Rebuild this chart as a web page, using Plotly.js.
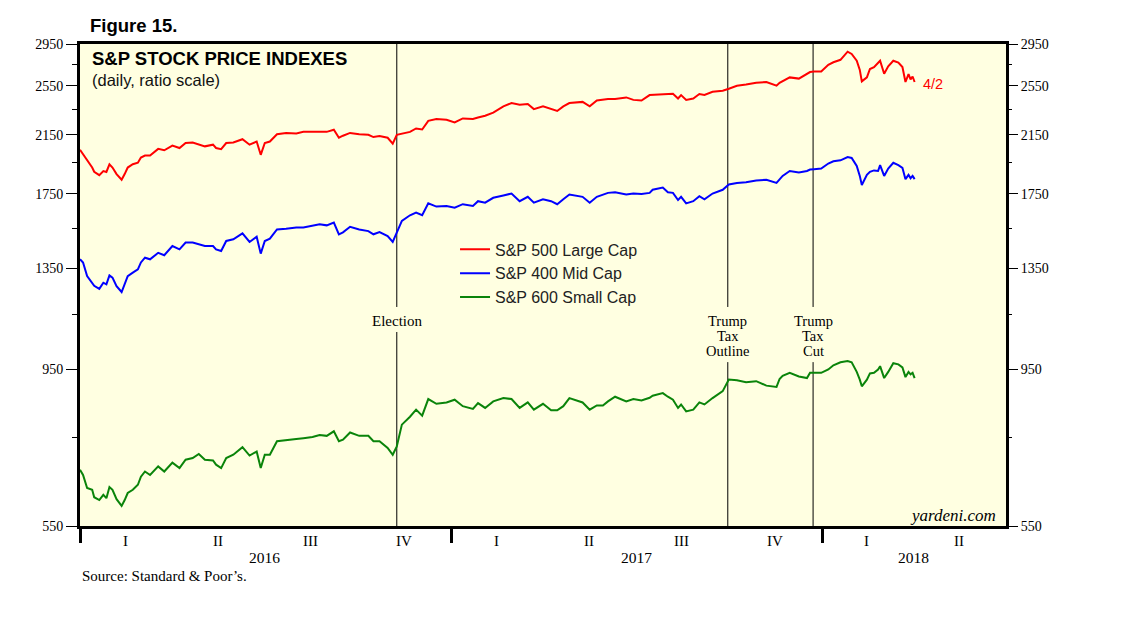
<!DOCTYPE html>
<html><head><meta charset="utf-8">
<script src="https://cdn.plot.ly/plotly-3.0.1.min.js"></script>
<style>html,body{margin:0;padding:0;background:#fff;} #chart{width:1138px;height:621px;}</style>
</head><body><div id="chart"></div>
<script>
const dates = ['2016-01-01','2016-01-04','2016-01-08','2016-01-13','2016-01-15','2016-01-20','2016-01-24','2016-01-27','2016-01-30','2016-02-02',
'2016-02-06','2016-02-11','2016-02-14','2016-02-17','2016-02-22','2016-02-27','2016-03-01','2016-03-05','2016-03-10','2016-03-18',
'2016-03-24','2016-04-01','2016-04-08','2016-04-14','2016-04-21','2016-04-27','2016-05-03','2016-05-11','2016-05-14','2016-05-19',
'2016-05-24','2016-05-31','2016-06-09','2016-06-16','2016-06-23','2016-06-27','2016-07-01','2016-07-06','2016-07-13','2016-07-22',
'2016-08-01','2016-08-08','2016-08-17','2016-08-24','2016-08-31','2016-09-07','2016-09-12','2016-09-16','2016-09-23','2016-10-02',
'2016-10-11','2016-10-16','2016-10-22','2016-10-30','2016-11-04','2016-11-08','2016-11-13','2016-11-21','2016-11-27','2016-12-03',
'2016-12-09','2016-12-17','2016-12-27','2017-01-04','2017-01-12','2017-01-22','2017-01-27','2017-02-03','2017-02-11','2017-02-21',
'2017-03-01','2017-03-09','2017-03-17','2017-03-23','2017-04-01','2017-04-09','2017-04-15','2017-04-21','2017-04-27','2017-05-10',
'2017-05-17','2017-05-24','2017-05-30','2017-06-04','2017-06-11','2017-06-22','2017-06-29','2017-07-07','2017-07-15','2017-07-18',
'2017-07-28','2017-08-02','2017-08-07','2017-08-12','2017-08-15','2017-08-20','2017-08-27','2017-09-02','2017-09-07','2017-09-15',
'2017-09-25','2017-10-01','2017-10-09','2017-10-18','2017-10-28','2017-11-07','2017-11-17','2017-11-20','2017-11-23','2017-11-30',
'2017-12-09','2017-12-17','2017-12-20','2017-12-24','2017-12-31','2018-01-07','2018-01-12','2018-01-19','2018-01-26','2018-01-30',
'2018-02-04','2018-02-07','2018-02-09','2018-02-14','2018-02-17','2018-02-21','2018-02-25','2018-02-27','2018-03-03','2018-03-07',
'2018-03-12','2018-03-17','2018-03-21','2018-03-24','2018-03-27','2018-03-29','2018-03-31','2018-04-02'];

const sp500 = [2040,2010,1962,1918,1890,1868,1895,1889,1940,1918,
1875,1838,1875,1918,1940,1951,1986,2000,2000,2047,
2037,2070,2053,2089,2093,2077,2065,2077,2053,2045,
2089,2093,2117,2077,2100,2005,2089,2100,2154,2164,
2160,2172,2172,2176,2172,2188,2128,2143,2164,2154,
2150,2133,2140,2128,2085,2150,2158,2172,2198,2190,
2257,2271,2266,2245,2276,2271,2283,2297,2323,2374,
2401,2387,2393,2351,2374,2351,2336,2374,2401,2411,
2374,2423,2430,2435,2435,2449,2428,2422,2469,2470,
2478,2478,2480,2440,2469,2428,2440,2478,2470,2497,
2507,2524,2550,2561,2577,2584,2551,2577,2592,2626,
2615,2660,2675,2680,2680,2744,2768,2792,2872,2849,
2783,2695,2590,2626,2704,2722,2765,2783,2660,2730,
2783,2765,2722,2584,2656,2608,2634,2584];

const sp400 = [1393,1378,1314,1281,1270,1257,1284,1277,1317,1307,
1269,1243,1277,1314,1330,1345,1378,1401,1393,1425,
1413,1459,1442,1477,1477,1468,1459,1459,1442,1434,
1485,1494,1525,1480,1507,1421,1485,1497,1546,1550,
1556,1556,1564,1574,1568,1583,1520,1530,1560,1546,
1537,1520,1532,1511,1480,1529,1593,1624,1639,1624,
1693,1674,1678,1668,1688,1678,1706,1697,1726,1740,
1752,1706,1732,1697,1717,1706,1688,1717,1746,1732,
1697,1732,1745,1756,1760,1746,1752,1749,1756,1775,
1789,1760,1756,1713,1732,1693,1706,1736,1717,1752,
1775,1808,1818,1822,1834,1838,1818,1838,1863,1895,
1885,1895,1905,1907,1911,1945,1960,1967,1990,1983,
1929,1863,1805,1870,1890,1899,1895,1934,1863,1911,
1950,1934,1916,1842,1870,1848,1863,1842];

const sp600 = [669,657,628,624,608,602,613,606,630,624,
604,590,602,617,624,635,653,665,657,677,
665,686,673,693,697,707,693,691,681,673,
697,705,724,703,713,673,705,705,739,741,
745,747,750,755,753,765,739,743,762,753,
753,739,739,722,705,726,783,805,825,808,
856,842,846,854,835,827,844,830,849,859,
856,830,846,825,842,823,823,835,859,846,
825,837,837,849,863,849,856,852,860,866,
874,863,854,830,840,820,825,846,840,859,
880,916,914,908,911,897,893,918,928,938,
926,921,938,938,938,949,963,973,977,973,
941,916,895,916,936,938,949,960,921,941,
970,966,956,924,941,933,938,921];

const seriesNames = ['S&P 500 Large Cap','S&P 400 Mid Cap','S&P 600 Small Cap'];
const seriesColors = ['#FF0000','#0000FF','#0A840A'];

const yTicks = [550,950,1350,1750,2150,2550,2950];
const yMinorTicks = [750,1150,1550,1950,2350,2750];
const yearStarts = ['2016-01-01','2017-01-01','2018-01-01'];
const quarterDates = ['2016-02-15','2016-05-16','2016-08-15','2016-11-15','2017-02-14','2017-05-16','2017-08-15','2017-11-15','2018-02-14','2018-05-16'];
const quarterLabels = ['I','II','III','IV','I','II','III','IV','I','II'];
const yearDates = ['2016-07-01','2017-07-02','2018-04-01'];
const yearLabels = ['2016','2017','2018'];
const eventDates = ['2016-11-08','2017-09-30','2017-12-23'];
const eventLabels = [['Election'],['Trump','Tax','Outline'],['Trump','Tax','Cut']];
const lastLabel = '4/2';

const SERIF = '"Liberation Serif", "Times New Roman", serif';
const SANS = '"Liberation Sans", Arial, sans-serif';

const traces = [sp500, sp400, sp600].map((vals, i) => ({
  type: 'scatter', mode: 'lines', x: dates, y: vals, name: seriesNames[i],
  yaxis: i === 2 ? 'y2' : 'y',
  line: {color: seriesColors[i], width: 2}, hoverinfo: 'skip'
}));

const yRange = [Math.log10(550), Math.log10(2950)];
const yCommon = {
  type: 'log', range: yRange, tickmode: 'array', tickvals: yTicks, ticktext: yTicks.map(String),
  ticks: 'outside', ticklen: 11, tickwidth: 1, tickcolor: '#000',
  minor: {tickmode: 'array', tickvals: yMinorTicks, ticks: 'outside', ticklen: 5, tickwidth: 1, tickcolor: '#000', showgrid: false},
  showgrid: false, zeroline: false, fixedrange: true,
  tickfont: {family: SERIF, size: 14, color: '#000'}
};

const shapes = [];
const annotations = [];
eventDates.forEach((d, i) => {
  const multi = eventLabels[i].length > 1;
  shapes.push({type: 'line', xref: 'x', yref: 'paper', x0: d, x1: d, y0: 0.4544, y1: 1, line: {color: '#000', width: 1}, layer: 'below'});
  shapes.push({type: 'line', xref: 'x', yref: 'paper', x0: d, x1: d, y0: 0, y1: multi ? 0.340 : 0.4025, line: {color: '#000', width: 1}, layer: 'below'});
  eventLabels[i].forEach((t, j) => {
    annotations.push({xref: 'x', yref: 'paper', x: d, y: 0.447, yanchor: 'top', xanchor: 'center', yshift: -15 * j,
      text: t, showarrow: false, font: {family: SERIF, size: multi ? 14.5 : 15, color: '#000'}});
  });
});
quarterDates.forEach((d, i) => annotations.push({xref: 'x', yref: 'paper', x: d, y: -0.031, yanchor: 'middle', text: quarterLabels[i], showarrow: false, font: {family: SERIF, size: 15, color: '#000'}}));
yearDates.forEach((d, i) => annotations.push({xref: 'x', yref: 'paper', x: d, y: -0.066, yanchor: 'middle', text: yearLabels[i], showarrow: false, font: {family: SERIF, size: 15.5, color: '#000'}}));
annotations.push({xref: 'paper', yref: 'paper', x: 0, y: -0.1037, xanchor: 'left', yanchor: 'middle', text: 'Source: Standard &amp; Poor’s.', showarrow: false, font: {family: SERIF, size: 15, color: '#000'}});
annotations.push({xref: 'paper', yref: 'paper', x: 0.0086, y: 1.039, xanchor: 'left', yanchor: 'middle', text: '<b>Figure 15.</b>', showarrow: false, font: {family: SANS, size: 18.5, color: '#000'}});
annotations.push({xref: 'paper', yref: 'paper', x: 0.0108, y: 0.9689, xanchor: 'left', yanchor: 'middle', text: '<b>S&amp;P STOCK PRICE INDEXES</b>', showarrow: false, font: {family: SANS, size: 18.5, color: '#000'}});
annotations.push({xref: 'paper', yref: 'paper', x: 0.0108, y: 0.9253, xanchor: 'left', yanchor: 'middle', text: '(daily, ratio scale)', showarrow: false, font: {family: SANS, size: 16.5, color: '#111'}});
annotations.push({xref: 'paper', yref: 'paper', x: 0.9914, y: 0.0228, xanchor: 'right', yanchor: 'middle', text: '<i>yardeni.com</i>', showarrow: false, font: {family: SERIF, size: 17, color: '#000'}});
annotations.push({xref: 'x', yref: 'y', x: dates[dates.length - 1], y: Math.log10(sp500[sp500.length - 1]), xanchor: 'left', yanchor: 'middle', xshift: 6, yshift: -2, text: lastLabel, showarrow: false, font: {family: SANS, size: 14.5, color: '#FF0000'}});

const layout = {
  width: 1138, height: 621,
  margin: {l: 80, r: 132, t: 44, b: 95},
  paper_bgcolor: '#FFFFFF', plot_bgcolor: '#FFFFE1',
  showlegend: true,
  legend: {x: 0.405, y: 0.609, xanchor: 'left', yanchor: 'top', bgcolor: 'rgba(0,0,0,0)', borderwidth: 0,
    font: {family: SANS, size: 16, color: '#222'}, tracegroupgap: 0},
  xaxis: {type: 'date', range: ['2016-01-01', '2018-07-01'], tickmode: 'array', tickvals: yearStarts,
    showticklabels: false, ticks: 'outside', ticklen: 14, tickwidth: 3, tickcolor: '#000',
    showline: true, linewidth: 3, linecolor: '#000', mirror: true, showgrid: false, zeroline: false, fixedrange: true},
  yaxis: Object.assign({}, yCommon, {side: 'left', showline: true, linewidth: 3, linecolor: '#000', mirror: true}),
  yaxis2: Object.assign({}, yCommon, {side: 'right', overlaying: 'y', showline: false}),
  shapes: shapes, annotations: annotations
};

Plotly.newPlot('chart', traces, layout, {displayModeBar: false, staticPlot: true});
</script></body></html>
